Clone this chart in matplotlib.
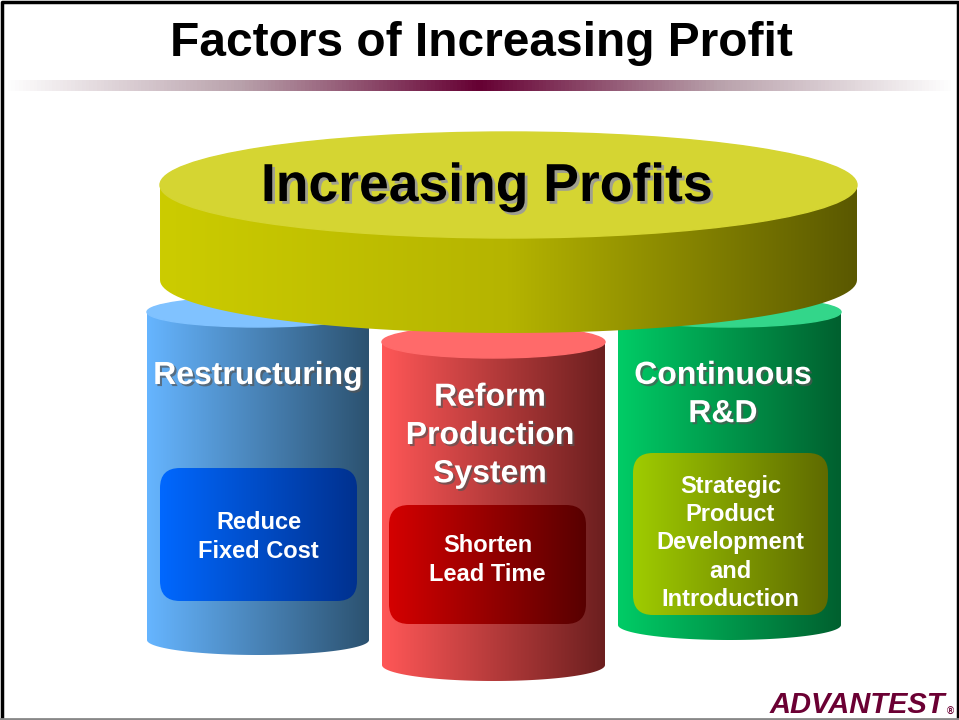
import numpy as np
import matplotlib
matplotlib.use("Agg")
import matplotlib.pyplot as plt
from matplotlib.colors import LinearSegmentedColormap
from matplotlib.patches import Ellipse, PathPatch, FancyBboxPatch
from matplotlib.path import Path
import matplotlib.patheffects as pe

# texts
title = "Factors of Increasing Profit"
roof_label = "Increasing Profits"
pillar_labels = ["Restructuring", "Reform\nProduction\nSystem", "Continuous\nR&D"]
box_labels = ["Reduce\nFixed Cost", "Shorten\nLead Time",
              "Strategic\nProduct\nDevelopment\nand\nIntroduction"]
logo = "ADVANTEST"

# pillar geometry (x0, x1, top ellipse y, bottom ellipse y, ellipse ry)
pillars = [(147, 369, 312, 640, 15), (382, 605, 342, 665, 16), (618, 841, 312, 625, 15)]
side_cols = [("#66b5ff", "#2c5270"), ("#ff5757", "#6c1f1f"), ("#00cc66", "#00602f")]
top_cols = ["#80c2ff", "#ff6a6a", "#33d68a"]
boxes = [(160, 468, 197, 133), (389, 505, 197, 119), (633, 453, 195, 162)]
box_cols = [("#0068ff", "#00318f"), ("#d40000", "#580000"), ("#9fcc00", "#5f6a00")]
box_text_y = [537, 560, 543]
label_pos = [(258, 376), (490, 436), (723, 395)]

plt.rcParams['font.family'] = ['Liberation Sans', 'DejaVu Sans']
fig = plt.figure(figsize=(9.59, 7.2), dpi=100)
ax = fig.add_axes([0, 0, 1, 1])
ax.set_axis_off()


def grad(patch, c0, c1, x0, x1, z, mid=None):
    cols = [c0, c1] if mid is None else [c0, mid, c1]
    cmap = LinearSegmentedColormap.from_list("g", cols)
    patch.set_facecolor("none")
    patch.set_edgecolor("none")
    patch.set_zorder(z)
    ax.add_patch(patch)
    im = ax.imshow(np.linspace(0, 1, 256).reshape(1, -1), cmap=cmap,
                   extent=(x0, x1, 720, 0), aspect="auto", zorder=z,
                   interpolation="bilinear")
    im.set_clip_path(patch)


def side_path(x0, x1, ytop, ybot, ry):
    cx, rx = (x0 + x1) / 2, (x1 - x0) / 2
    t = np.linspace(0, np.pi, 80)
    arc = np.column_stack([cx + rx * np.cos(t), ybot + ry * np.sin(t)])
    pts = np.vstack([[x0, ytop], [x1, ytop], arc, [x0, ytop]])
    return Path(pts, closed=True)


# pillars
for (x0, x1, yt, yb, ry), (c0, c1), tc in zip(pillars, side_cols, top_cols):
    grad(PathPatch(side_path(x0, x1, yt, yb, ry)), c0, c1, x0, x1, 2)
    ax.add_patch(Ellipse(((x0 + x1) / 2, yt), x1 - x0, 2 * ry, color=tc, zorder=2.5))

# roof disc
dx0, dx1, dyt, dyb, dry = 160, 857, 185, 280, 53
grad(PathPatch(side_path(dx0, dx1, dyt, dyb, dry)), "#cccc00", "#5a5800", dx0, dx1, 5,
     mid="#b5b400")
ax.add_patch(Ellipse(((dx0 + dx1) / 2, dyt), dx1 - dx0, 2 * dry, color="#d5d532", zorder=5.5))
ax.text(487, 187, roof_label, fontsize=38.5, fontweight="bold", color="black",
        ha="center", va="center", zorder=6,
        path_effects=[pe.withSimplePatchShadow(offset=(2, -2), shadow_rgbFace="#9a9a9a", alpha=0.9)])

# pillar labels and inner boxes
for (lx, ly), lab in zip(label_pos, pillar_labels):
    ax.text(lx, ly, lab, fontsize=23, fontweight="bold", color="white",
            ha="center", va="center", linespacing=1.36, zorder=4,
            path_effects=[pe.withSimplePatchShadow(offset=(1.5, -1.5), shadow_rgbFace="#555555", alpha=0.7)])

for (bx, by, bw, bh), (c0, c1), lab, ty in zip(boxes, box_cols, box_labels, box_text_y):
    p = FancyBboxPatch((bx, by), bw, bh, boxstyle="round,pad=0,rounding_size=20")
    grad(p, c0, c1, bx, bx + bw, 3)
    ax.text(bx + bw / 2, ty, lab, fontsize=17, fontweight="bold", color="white",
            ha="center", va="center", linespacing=1.29, zorder=4)

# title and separator bar
ax.text(481, 44, title, fontsize=34.5, fontweight="bold", color="black",
        ha="center", va="center")
bar_cmap = LinearSegmentedColormap.from_list("bar", ["#ffffff", "#b8a0aa", "#660033", "#b8a0aa", "#ffffff"])
ax.imshow(np.linspace(0, 1, 256).reshape(1, -1), cmap=bar_cmap, extent=(4, 955, 91, 80),
          aspect="auto", zorder=1)

# logo
ax.text(945, 705, logo, fontsize=21, fontweight="heavy", style="italic", color="#6b0033",
        ha="right", va="center")
ax.text(950, 712, "®", fontsize=7, fontweight="bold", color="#6b0033", ha="center", va="center")

# slide frame
ax.plot([1.5, 1.5, 957.5, 957.5], [720, 1.5, 1.5, 720], color="black", lw=2.5, zorder=10)
ax.plot([0, 959], [718.5, 718.5], color="#888888", lw=2, zorder=10)

ax.set_xlim(0, 959)
ax.set_ylim(720, 0)
fig.savefig("out.png", dpi=100, facecolor="white")
